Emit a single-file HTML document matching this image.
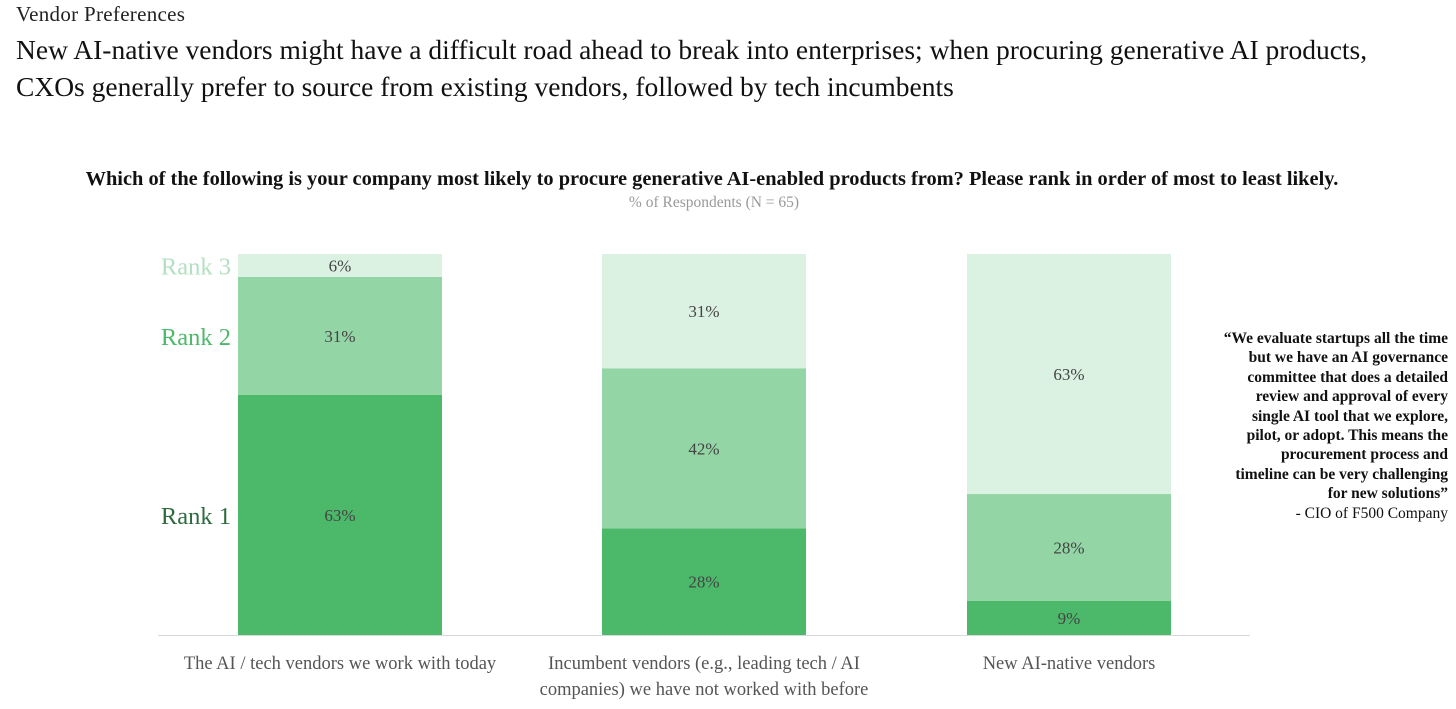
<!DOCTYPE html>
<html><head><meta charset="utf-8"><style>
body{margin:0;background:#fff;width:1456px;height:709px;overflow:hidden;font-family:"Liberation Serif",serif;position:relative}
.a{position:absolute;white-space:nowrap}
</style></head><body>
<div class="a" style="left:16px;top:2px;font-size:21px;letter-spacing:0.3px;color:#222">Vendor Preferences</div>
<div class="a" style="left:16px;top:31px;font-size:27.5px;line-height:37px;color:#111">New AI-native vendors might have a difficult road ahead to break into enterprises; when procuring generative AI products,<br>CXOs generally prefer to source from existing vendors, followed by tech incumbents</div>
<div class="a" style="left:0;width:1424px;text-align:center;top:168px;font-size:20.4px;font-weight:bold;color:#111">Which of the following is your company most likely to procure generative AI-enabled products from? Please rank in order of most to least likely.</div>
<div class="a" style="left:0;width:1428px;text-align:center;top:194px;font-size:15.5px;color:#999">% of Respondents (N = 65)</div>
<div class="a" style="right:8px;top:329px;text-align:right;font-size:15.5px;line-height:19.4px;color:#111"><b>“We evaluate startups all the time<br>but we have an AI governance<br>committee that does a detailed<br>review and approval of every<br>single AI tool that we explore,<br>pilot, or adopt. This means the<br>procurement process and<br>timeline can be very challenging<br>for new solutions”</b><br>- CIO of F500 Company</div>
<svg id="chart" class="a" style="left:0;top:0" width="1456" height="709"></svg>
<script>
const categories=[["The AI / tech vendors we work with today"],["Incumbent vendors (e.g., leading tech / AI","companies) we have not worked with before"],["New AI-native vendors"]];
const rank1=[63,28,9];
const rank2=[31,42,28];
const rank3=[6,31,63];
const seriesNames=["Rank 1","Rank 2","Rank 3"];
const colors=["#4cb96a","#93d5a5","#dbf1e2"];
const labelColors=["#2e6b3e","#4cb96a","#b3e0c0"];
const svg=document.getElementById('chart');
const NS='http://www.w3.org/2000/svg';
const base=635,scale=3.81,barW=204;
const barX=[238,602,967];
const y=v=>base-v*scale;
function mk(t,a){const e=document.createElementNS(NS,t);for(const k in a)e.setAttribute(k,a[k]);svg.appendChild(e);return e;}
const series=[rank1,rank2,rank3];
categories.forEach((c,i)=>{
  let cum=0;
  series.forEach((s,j)=>{
    const v=s[i];const top=Math.max(y(cum+v),254);const bot=y(cum);
    const r=mk('rect',{x:barX[i],y:top,width:barW,height:bot-top,fill:colors[j]});
    
    
    const t=mk('text',{x:barX[i]+barW/2,y:(top+bot)/2+6,'text-anchor':'middle','font-size':17,fill:'#444','font-family':'Liberation Serif, serif'});
    t.textContent=v+'%';
    
    
    cum+=v;
  });
  c.forEach((line,k)=>{
    const t=mk('text',{x:barX[i]+barW/2,y:669+k*26,'text-anchor':'middle','font-size':18.5,fill:'#555','font-family':'Liberation Serif, serif'});
    t.textContent=line;
    
    
  });
});
let cum=0;
series.forEach((s,j)=>{
  const v=s[0];const top=Math.max(y(cum+v),254);const bot=y(cum);
  const t=mk('text',{x:231,y:(top+bot)/2+9,'text-anchor':'end','font-size':24.5,fill:labelColors[j],'font-family':'Liberation Serif, serif'});
  t.textContent=seriesNames[j];
  
  
  cum+=v;
});
const ax=mk('line',{x1:158,x2:1250,y1:base+0.5,y2:base+0.5,stroke:'#d8d8d8','stroke-width':1});


</script>
</body></html>
